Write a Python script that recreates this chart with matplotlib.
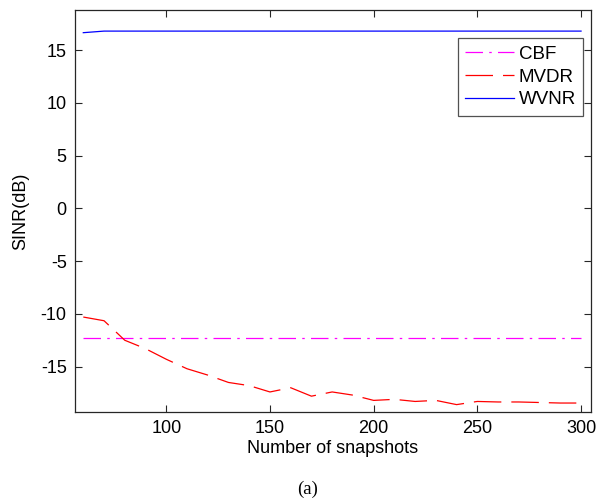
import matplotlib
matplotlib.use("Agg")
import matplotlib.pyplot as plt
import numpy as np

plt.rcParams['font.family'] = ['Liberation Sans', 'DejaVu Sans']
plt.rcParams['axes.unicode_minus'] = False

# SINR versus number of snapshots
snapshots = [60, 70, 80, 90, 100, 110, 120, 130, 140, 150, 160, 170, 180,
             190, 200, 210, 220, 230, 240, 250, 260, 270, 280, 290, 300]
cbf = [-12.3] * len(snapshots)
mvdr = [-10.3, -10.65, -12.5, -13.3, -14.3, -15.2, -15.8, -16.5, -16.8,
        -17.4, -17.0, -17.8, -17.4, -17.7, -18.2, -18.1, -18.3, -18.2,
        -18.6, -18.3, -18.35, -18.35, -18.4, -18.45, -18.45]
wvnr = [16.65] + [16.8] * (len(snapshots) - 1)

fig = plt.figure(figsize=(5.98, 4.99), dpi=100)
ax = fig.add_axes([75 / 598, 1 - 412 / 499, 516 / 598, 402 / 499])

ax.plot(snapshots, cbf, color='#ff00ff', linestyle=(0, (14, 5, 2, 5)),
        linewidth=0.9, label='CBF')
ax.plot(snapshots, mvdr, color='#ff0000', linestyle=(0, (22, 8)),
        linewidth=0.9, label='MVDR')
ax.plot(snapshots, wvnr, color='#0000ff', linestyle='-',
        linewidth=0.9, label='WVNR')

ax.set_xlim(56, 304.8)
ax.set_ylim(-19.3, 18.8)
ax.set_xticks([100, 150, 200, 250, 300])
ax.set_yticks([-15, -10, -5, 0, 5, 10, 15])
ax.tick_params(direction='in', length=5, width=0.8, top=True, right=True,
               labelsize=13, colors='#262626', labelcolor='black', pad=6)
for s in ax.spines.values():
    s.set_color('#262626')
    s.set_linewidth(0.9)

ax.set_xlabel('Number of snapshots', fontsize=13, labelpad=2)
ax.set_ylabel('SINR(dB)', fontsize=13, labelpad=8)

leg = ax.legend(loc='upper right', bbox_to_anchor=(0.985, 0.93),
                fontsize=13.5, frameon=True, fancybox=False, handlelength=2.6,
                handletextpad=0.25, borderpad=0.4, labelspacing=0.3,
                borderaxespad=0.0)
leg.get_frame().set_edgecolor('#262626')
leg.get_frame().set_linewidth(0.9)

fig.text(308 / 598, 1 - 489 / 499, '(a)', ha='center', va='center',
         fontsize=13.5, family=['Liberation Serif', 'DejaVu Serif'])

fig.savefig('out.png', dpi=100)
